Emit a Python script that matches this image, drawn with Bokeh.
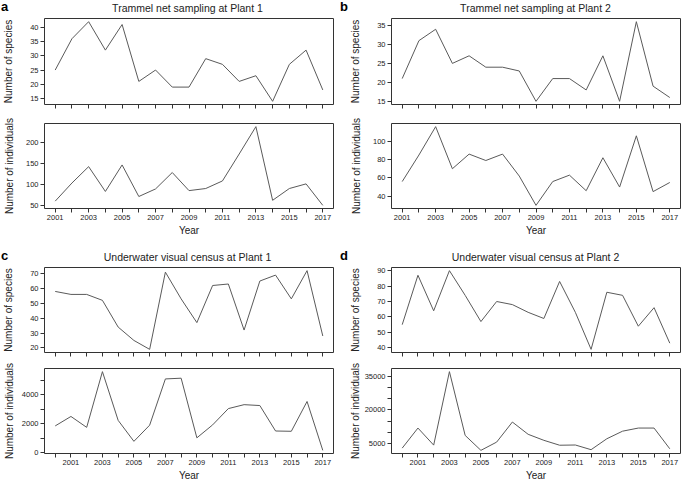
from bokeh.plotting import figure
from bokeh.layouts import column, row
from bokeh.models import Range1d, FixedTicker, Div
from bokeh.embed import file_html
from bokeh.resources import INLINE

# ---------------- data ----------------
years_ab = list(range(2001, 2018))
years_cd = list(range(2000, 2018))

a_species = [25, 36, 42, 32, 41, 21, 25, 19, 19, 29, 27, 21, 23, 14, 27, 32, 18]
a_individuals = [60, 103, 142, 83, 146, 71, 89, 128, 85, 90, 108, 172, 237, 62, 90, 101, 50]

b_species = [21, 31, 34, 25, 27, 24, 24, 23, 15, 21, 21, 18, 27, 15, 36, 19, 16]
b_individuals = [56, 85, 116, 70, 86, 79, 86, 62, 30, 56, 63, 46, 82, 50, 106, 45, 55]

c_species = [58, 56, 56, 52, 34, 25, 19, 71, 53, 37, 62, 63, 32, 65, 69, 53, 72, 28]
c_individuals = [1850, 2500, 1750, 5580, 2230, 790, 1900, 5080, 5130, 1030, 1920, 3040, 3310, 3250, 1500, 1480, 3530, 170]

d_species = [55, 87, 64, 90, 74, 57, 70, 68, 63, 59, 83, 63, 39, 76, 74, 54, 66, 43]
d_individuals = [2900, 11900, 4250, 37200, 8600, 1900, 5600, 14600, 9100, 6400, 4200, 4300, 2200, 7100, 10500, 11900, 11900, 2600]

titles = ["Trammel net sampling at Plant 1", "Trammel net sampling at Plant 2",
          "Underwater visual census at Plant 1", "Underwater visual census at Plant 2"]
letters = ["a", "b", "c", "d"]

ticks_a_up = [15, 20, 25, 30, 35, 40]
ticks_a_low = [50, 100, 150, 200]
ticks_b_up = [15, 20, 25, 30, 35]
ticks_b_low = [40, 60, 80, 100]
ticks_c_up = [20, 30, 40, 50, 60, 70]
ticks_c_low = [0, 1000, 2000, 3000, 4000, 5000]
labels_c_low = [0, 2000, 4000]
ticks_d_up = [40, 50, 60, 70, 80, 90]
ticks_d_low = [5000, 10000, 15000, 20000, 25000, 30000, 35000]
labels_d_low = [5000, 20000, 35000]

FONT = "Liberation Sans"
LINE = "#5a5a5a"
BOX = "#333333"
TXT = "#222222"

LEFT_W, RIGHT_W = 337, 347
LEFT_BL, RIGHT_BL = 42, 54
LEFT_BR, RIGHT_BR = 4, 4


def padded(vals):
    lo, hi = min(vals), max(vals)
    d = (hi - lo) * 0.04
    return Range1d(lo - d, hi + d)


def header(letter, title, left, height, top):
    width = LEFT_W if left else RIGHT_W
    bl = LEFT_BL if left else RIGHT_BL
    br = LEFT_BR if left else RIGHT_BR
    fw = width - bl - br
    lx = 1 if left else 3
    html = (
        f'<div style="position:relative;width:{width}px;height:{height}px;font-family:\'{FONT}\';color:{TXT};">'
        f'<span style="position:absolute;left:{lx}px;top:{top}px;font-size:13px;line-height:13px;'
        f'font-weight:bold;color:#000;">{letter}</span>'
        f'<span style="position:absolute;left:{bl}px;width:{fw}px;top:{top + 2}px;text-align:center;'
        f'font-size:10.5px;line-height:12px;white-space:nowrap;">{title}</span>'
        '</div>'
    )
    return Div(text=html, width=width, height=height, margin=(0, 0, 0, 0))


def make(years, vals, yticks, ylabels, ylab, left, bt, fh, bb, upper):
    width = LEFT_W if left else RIGHT_W
    bl = LEFT_BL if left else RIGHT_BL
    br = LEFT_BR if left else RIGHT_BR
    height = bt + fh + bb
    p = figure(width=width, height=height, output_backend="svg", toolbar_location=None,
               x_range=padded(years), y_range=padded(vals),
               min_border_left=bl, min_border_right=br, min_border_top=bt, min_border_bottom=bb,
               background_fill_color="white", border_fill_color="white")
    p.line(years, vals, line_color=LINE, line_width=1)
    p.outline_line_color = BOX
    p.outline_line_width = 1
    p.xgrid.visible = False
    p.ygrid.visible = False

    for ax in (p.xaxis[0], p.yaxis[0]):
        ax.axis_line_color = None
        ax.major_tick_out = 4
        ax.major_tick_in = 0
        ax.minor_tick_line_color = None
        ax.major_tick_line_color = BOX
        ax.major_label_text_font = FONT
        ax.major_label_text_font_size = "7.5px"
        ax.major_label_text_color = TXT
        ax.major_label_standoff = 2
        ax.axis_label_text_font = FONT
        ax.axis_label_text_font_size = "10px"
        ax.axis_label_text_font_style = "normal"
        ax.axis_label_text_color = TXT

    # x axis
    p.xaxis.ticker = FixedTicker(ticks=years)
    if upper:
        p.xaxis.major_label_overrides = {y: "" for y in years}
    else:
        p.xaxis.major_label_overrides = {y: ("" if y % 2 == 0 else str(y)) for y in years}
        p.xaxis.axis_label = "Year"
        p.xaxis.axis_label_standoff = 2

    # y axis
    p.yaxis.ticker = FixedTicker(ticks=yticks)
    if ylabels is not None:
        p.yaxis.major_label_overrides = {t: (str(t) if t in ylabels else "") for t in yticks}
    p.yaxis.axis_label = ylab
    shown = [str(t) for t in (ylabels if ylabels is not None else yticks)]
    w = max(len(s) for s in shown) * 0.556 * 7.5
    base = 21
    p.yaxis.axis_label_standoff = max(1, int(round(base - w)))
    return p


# top block: header 0..16, upper frame 18..104, lower frame 123..208
UP1 = dict(bt=2, fh=86, bb=6, upper=True)
LO1 = dict(bt=13, fh=85, bb=31, upper=False)
# bottom block: header 239..265, upper frame 267..352, lower frame 370..455
UP2 = dict(bt=2, fh=85, bb=6, upper=True)
LO2 = dict(bt=10, fh=85, bb=30, upper=False)

a_up = make(years_ab, a_species, ticks_a_up, None, "Number of species", True, **UP1)
a_low = make(years_ab, a_individuals, ticks_a_low, None, "Number of individuals", True, **LO1)
b_up = make(years_ab, b_species, ticks_b_up, None, "Number of species", False, **UP1)
b_low = make(years_ab, b_individuals, ticks_b_low, None, "Number of individuals", False, **LO1)
c_up = make(years_cd, c_species, ticks_c_up, None, "Number of species", True, **UP2)
c_low = make(years_cd, c_individuals, ticks_c_low, labels_c_low, "Number of individuals", True, **LO2)
d_up = make(years_cd, d_species, ticks_d_up, None, "Number of species", False, **UP2)
d_low = make(years_cd, d_individuals, ticks_d_low, labels_d_low, "Number of individuals", False, **LO2)

layout = column(
    row(header(letters[0], titles[0], True, 16, 0), header(letters[1], titles[1], False, 16, 0)),
    row(a_up, b_up),
    row(a_low, b_low),
    row(header(letters[2], titles[2], True, 26, 10), header(letters[3], titles[3], False, 26, 10)),
    row(c_up, d_up),
    row(c_low, d_low),
)

open("out.html", "w").write(file_html(layout, INLINE))
